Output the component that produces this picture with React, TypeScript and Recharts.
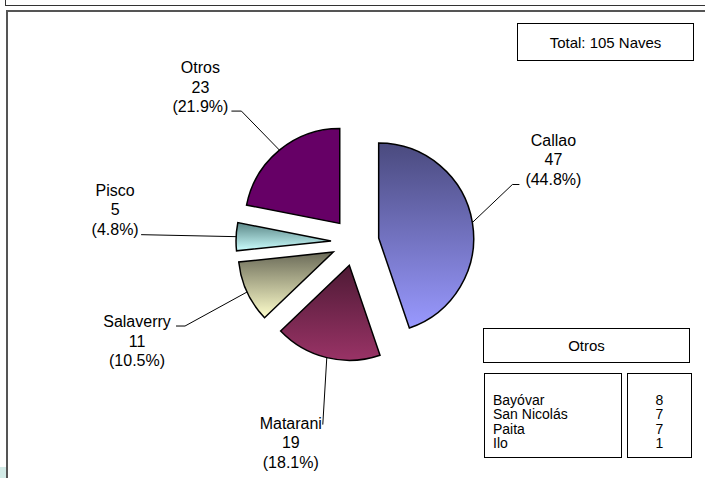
import { PieChart, Pie, Sector } from "recharts"

const ports = ["Callao", "Matarani", "Salaverry", "Pisco", "Otros"]
const naves = [47, 19, 11, 5, 23]
const otrosPorts = ["Bayóvar", "San Nicolás", "Paita", "Ilo"]
const otrosNaves = [8, 7, 7, 1]

const pieData = ports.map((port, i) => ({ port, naves: naves[i] }))
const total = naves.reduce((a, b) => a + b, 0)

// dark top -> colour bottom, like the old Excel fill
const gradients = [
  ["#4a4a7e", "#9999ff"],
  ["#4e1a35", "#993366"],
  ["#6a6a58", "#ffffcc"],
  ["#5a8686", "#ccffff"],
  ["#660066", "#660066"],
]

// text centre offset from the arc midpoint, leader elbow/end relative to text centre
const labelLayout = [
  { dx: 81, dy: -63, elbow: [-41, 25], end: [-34, 25] },
  { dx: -36, dy: 85, elbow: [32, -18], end: [32, -18] },
  { dx: -110, dy: 49, elbow: [48, -15], end: [39, -15] },
  { dx: -121, dy: -27, elbow: [26, 25], end: [26, 25] },
  { dx: -79, dy: -63, elbow: [41, 24], end: [31, 24] },
]

const EXPLODE = 24
const RAD = Math.PI / 180
const font = "'Liberation Sans', Arial, sans-serif"

function SliceWithLabel(props: any) {
  const { cx, cy, outerRadius, startAngle, endAngle, index, value, percent, payload } = props
  const mid = (startAngle + endAngle) / 2
  const cos = Math.cos(-mid * RAD)
  const sin = Math.sin(-mid * RAD)
  const ox = cx + EXPLODE * cos
  const oy = cy + EXPLODE * sin
  const ax = ox + outerRadius * cos
  const ay = oy + outerRadius * sin
  const lay = labelLayout[index]
  const tx = ax + lay.dx
  const ty = ay + lay.dy
  const [c0, c1] = gradients[index]
  const gid = `slice-grad-${index}`
  return (
    <g>
      <defs>
        <linearGradient id={gid} x1="0" y1="0" x2="0" y2="1">
          <stop offset="0" stopColor={c0} />
          <stop offset="1" stopColor={c1} />
        </linearGradient>
      </defs>
      <Sector
        cx={ox}
        cy={oy}
        innerRadius={0}
        outerRadius={outerRadius}
        startAngle={startAngle}
        endAngle={endAngle}
        fill={`url(#${gid})`}
        stroke="#000"
        strokeWidth={1.5}
      />
      <polyline
        points={`${ax},${ay} ${tx + lay.elbow[0]},${ty + lay.elbow[1]} ${tx + lay.end[0]},${ty + lay.end[1]}`}
        fill="none"
        stroke="#000"
        strokeWidth={1}
      />
      <text textAnchor="middle" fontSize={16} fontFamily={font} fill="#000">
        <tspan x={tx} y={ty - 14}>{payload.port}</tspan>
        <tspan x={tx} y={ty + 5.5}>{value}</tspan>
        <tspan x={tx} y={ty + 25}>({(percent * 100).toFixed(1)}%)</tspan>
      </text>
    </g>
  )
}

const box = {
  position: "absolute" as const,
  boxSizing: "border-box" as const,
  border: "1px solid #000",
  background: "#fff",
}

export default function App() {
  return (
    <div
      style={{
        position: "fixed",
        left: 0,
        top: 0,
        width: 705,
        height: 478,
        background: "#fff",
        overflow: "hidden",
        fontFamily: font,
        color: "#000",
      }}
    >
      <div style={{ position: "absolute", left: 5, top: -6, width: 720, height: 12, boxSizing: "border-box", border: "1.5px solid #333" }} />
      <div style={{ position: "absolute", left: 6, top: 10, width: 720, height: 500, boxSizing: "border-box", border: "2px solid #555" }} />
      <div style={{ position: "absolute", left: 0, top: 467, width: 6, height: 11, background: "#d3ebe7" }} />

      <div style={{ position: "absolute", left: 0, top: 0 }}>
        <PieChart width={705} height={478}>
          <Pie
            data={pieData}
            dataKey="naves"
            nameKey="port"
            cx={350}
            cy={237}
            outerRadius={95}
            startAngle={90}
            endAngle={-270}
            fill="transparent"
            stroke="none"
            label={SliceWithLabel}
            labelLine={false}
            isAnimationActive={false}
          />
        </PieChart>
      </div>

      <div style={{ ...box, left: 517, top: 23, width: 177, height: 38, display: "flex", alignItems: "center", justifyContent: "center", fontSize: 15 }}>
        Total: {total} Naves
      </div>

      <div style={{ ...box, left: 483, top: 328, width: 207, height: 35, display: "flex", alignItems: "center", justifyContent: "center", fontSize: 15 }}>
        Otros
      </div>

      <div style={{ ...box, left: 484, top: 373, width: 138, height: 85, paddingLeft: 8, paddingTop: 19, fontSize: 14, lineHeight: "14.3px" }}>
        {otrosPorts.map((p) => (
          <div key={p}>{p}</div>
        ))}
      </div>

      <div style={{ ...box, left: 627, top: 373, width: 65, height: 85, paddingTop: 19, fontSize: 14, lineHeight: "14.3px", textAlign: "center" }}>
        {otrosNaves.map((v, i) => (
          <div key={i}>{v}</div>
        ))}
      </div>
    </div>
  )
}
